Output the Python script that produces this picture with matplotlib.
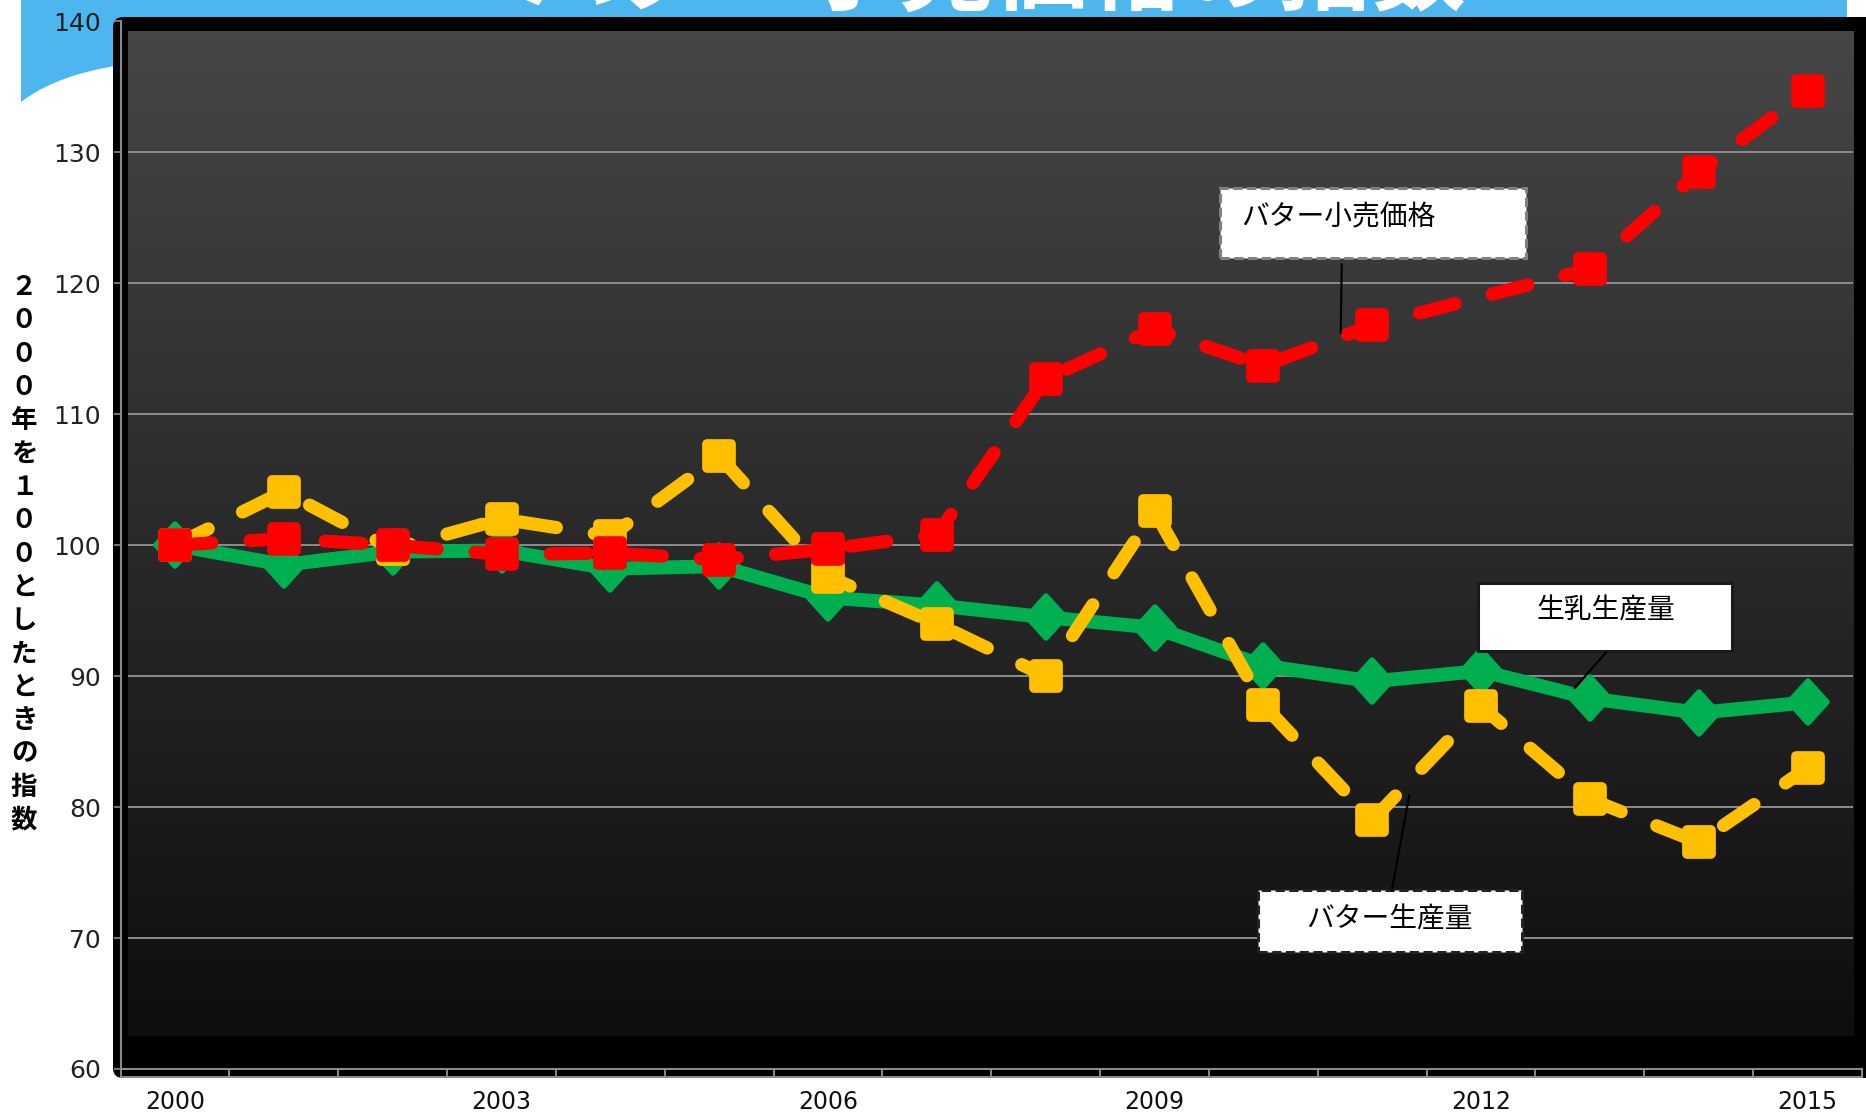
import numpy as np
import matplotlib
matplotlib.use("Agg")
import matplotlib.pyplot as plt
from matplotlib.markers import MarkerStyle
from matplotlib.patches import Rectangle, Polygon, FancyBboxPatch
from matplotlib.transforms import Affine2D, IdentityTransform, ScaledTranslation
from matplotlib.lines import Line2D
from matplotlib.colors import LinearSegmentedColormap

# data (2000 = 100)
years = list(range(2000, 2016))
milk_prod = [100.0, 98.5, 99.5, 99.6, 98.2, 98.4, 96.0, 95.4, 94.5, 93.7,
             90.8, 89.6, 90.4, 88.3, 87.2, 88.0]
butter_prod = [100.0, 104.1, 99.7, 102.0, 100.7, 106.8, 97.6, 94.0, 90.0, 102.6,
               87.8, 79.0, 87.7, 80.6, 77.3, 83.0]
butter_price = [100.0, 100.5, 100.0, 99.3, 99.4, 98.9, 99.7, 100.8, 112.7, 116.5,
                113.7, 116.8, None, 121.1, 128.5, 134.7]
xtick_years = [2000, 2003, 2006, 2009, 2012, 2015]
yticks = [60, 70, 80, 90, 100, 110, 120, 130, 140]

title = "バター小売価格の指数"
ylabel = "２０００年を１００としたときの指数"
label_price = "バター小売価格"
label_milk = "生乳生産量"
label_butter = "バター生産量"

GREEN = "#00B050"
YELLOW = "#FFC000"
RED = "#FF0000"
JP = ["Noto Sans CJK JP", "DejaVu Sans"]

W, H = 1866, 1117
fig = plt.figure(figsize=(W / 100, H / 100), dpi=100)
fig.patch.set_facecolor("white")

# blue header + swoosh (pixel coords, y from top)
t = np.linspace(0, 1, 30)
p0, c, p1 = np.array([115, 66]), np.array([55, 76]), np.array([21, 102])
curve = [(1 - s) ** 2 * p0 + 2 * (1 - s) * s * c + s ** 2 * p1 for s in t]
pts = [(21, 0), (1847, 0), (1847, 40), (115, 40)] + [tuple(q) for q in curve]
pts = [(x, H - y) for x, y in pts]
fig.add_artist(Polygon(pts, closed=True, facecolor="#4DB6EF", edgecolor="none",
                       transform=IdentityTransform(), zorder=-2))

# black frame behind plot
fig.add_artist(FancyBboxPatch((113, H - 1078), 1866 - 113 + 10, 1078 - 17,
                              boxstyle="round,pad=0,rounding_size=10",
                              facecolor="black", edgecolor="none",
                              transform=IdentityTransform(), zorder=-1))

fig.text(0.533, 1 - 4 / H, title, ha="center", va="baseline", fontsize=68,
         fontweight="bold", color="white", family=JP)

ax = fig.add_axes([120.6 / W, 1 - 1069 / H, (1862 - 120.6) / W, (1069 - 21.4) / H])
ax.set_facecolor("none")
ax.set_xlim(-0.5, 15.5)
ax.set_ylim(60, 140)

# inner gradient area
grad = np.linspace(0, 1, 256).reshape(-1, 1)
gcmap = LinearSegmentedColormap.from_list("g", ["#0e0e0e", "#464646"])
ax.imshow(grad, cmap=gcmap, origin="lower", aspect="auto",
          extent=(-0.43, 15.42, 62.5, 139.2), zorder=0.5)
ax.hlines(yticks[1:-1], -0.43, 15.42, color="#8c8c8c", lw=1.4, zorder=0.8)

x = np.arange(len(years))
diamond = MarkerStyle("D", joinstyle="round", transform=Affine2D().scale(1, 1.15))
square = MarkerStyle("s", joinstyle="round")

ax.plot(x, milk_prod, color=GREEN, lw=10, marker=diamond, ms=19, mew=4,
        mec=GREEN, mfc=GREEN, solid_joinstyle="round", zorder=3)
ax.plot(x, butter_prod, color=YELLOW, lw=9.5, marker=square, ms=17, mew=7,
        mec=YELLOW, mfc=YELLOW, dashes=[2.8, 2.9], dash_capstyle="round", zorder=4)
price = np.array([np.nan if v is None else v for v in butter_price])
ok = ~np.isnan(price)
ax.plot(x[ok], price[ok], color=RED, lw=9.5, marker=square, ms=17, mew=7,
        mec=RED, mfc=RED, dashes=[2.8, 2.9], dash_capstyle="round", zorder=5)

# callout boxes
def box(x0, x1, y0, y1, ec, ls):
    ax.add_patch(Rectangle((x0, y0), x1 - x0, y1 - y0, facecolor="white",
                           edgecolor=ec, lw=2.2, linestyle=ls, zorder=6))

box(9.60, 12.41, 121.91, 127.27, "#808080", (0, (3, 1.5)))
ax.text(9.80, 125.0, label_price, ha="left", va="center", fontsize=20, family=JP, zorder=7)
ax.plot([10.72, 10.71], [121.45, 116.2], color="black", lw=1.5, zorder=6)

box(11.97, 14.31, 91.91, 97.09, "#1a1a1a", "-")
ax.text(13.15, 95.0, label_milk, ha="center", va="center", fontsize=20, family=JP, zorder=7)
ax.plot([13.15, 12.86], [91.82, 89.1], color="black", lw=1.5, zorder=6)

box(9.95, 12.38, 68.91, 73.64, "#222222", (0, (3, 1.5)))
ax.text(11.16, 71.45, label_butter, ha="center", va="center", fontsize=20, family=JP, zorder=7)
ax.plot([11.18, 11.34], [73.64, 80.9], color="black", lw=1.5, zorder=6)

# axes styling
for s in ["top", "right"]:
    ax.spines[s].set_visible(False)
for s in ["left", "bottom"]:
    ax.spines[s].set_color("#8a8a8a")
    ax.spines[s].set_linewidth(1.5)

ax.set_yticks(yticks)
ax.set_yticklabels([str(v) for v in yticks])
ax.tick_params(axis="y", length=5, width=1.2, color="#8a8a8a", pad=9,
               labelsize=18, labelcolor="#222222")

ax.set_xticks([years.index(y) for y in xtick_years])
ax.set_xticklabels([str(y) for y in xtick_years])
ax.set_xticks(np.arange(-0.5, 16, 1), minor=True)
ax.tick_params(axis="x", which="major", length=0, pad=15, labelsize=17, labelcolor="#111111")
ax.tick_params(axis="x", which="minor", length=6, width=1.4, color="#8a8a8a", direction="out")
off = ScaledTranslation(0, -8 / 100, fig.dpi_scale_trans)
ax.add_line(Line2D([0, 1], [0, 0], transform=ax.transAxes + off, color="#8a8a8a",
                   lw=1.5, clip_on=False))

fig.text(24 / W, 1 - 554 / H, "\n".join(ylabel), ha="center", va="center",
         fontsize=19, fontweight="bold", family=JP, linespacing=1.3)

fig.savefig("out.png", dpi=100)
